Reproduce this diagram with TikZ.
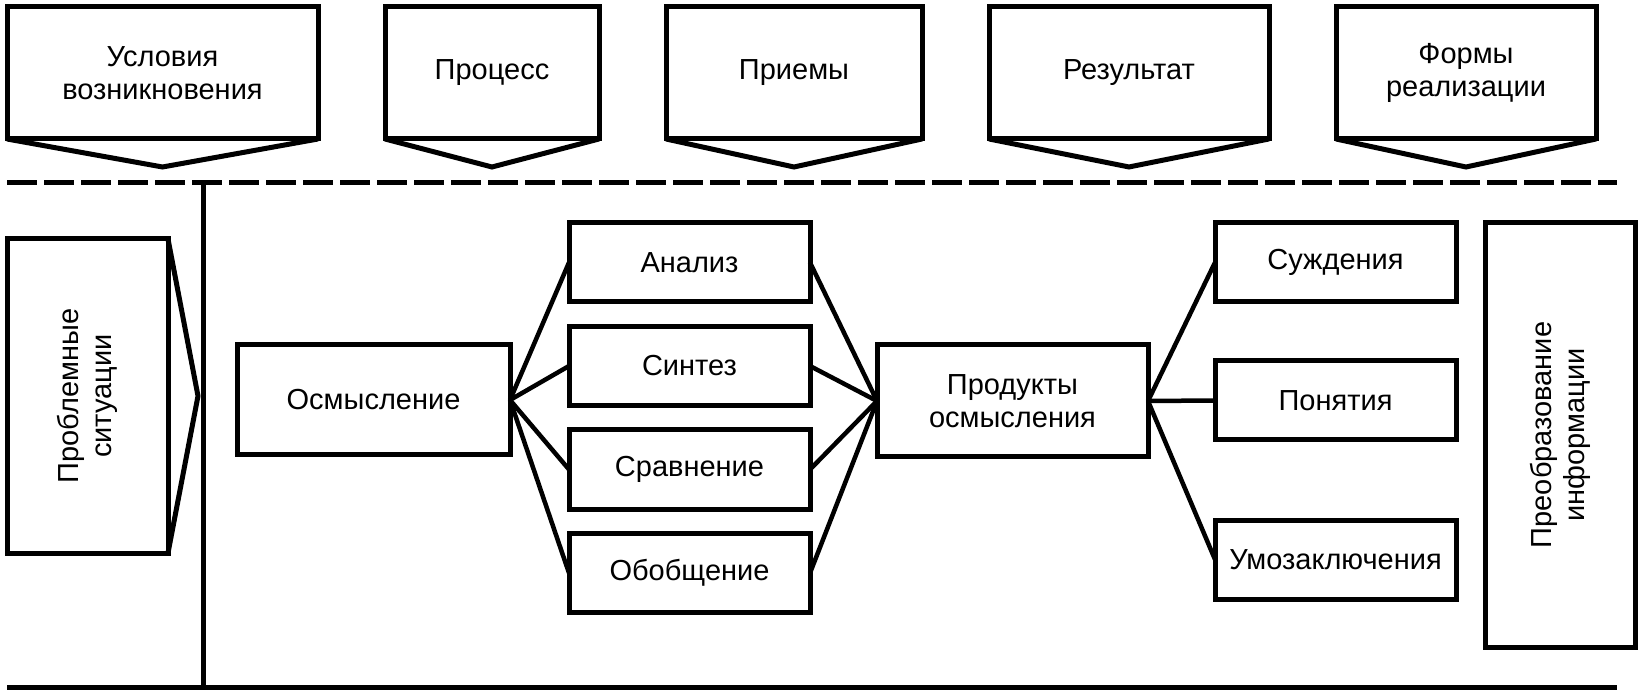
\documentclass[tikz,border=0pt]{standalone}
\usepackage{fontspec}
\setmainfont{Liberation Sans}
\usetikzlibrary{positioning,calc}

\begin{document}
\begin{tikzpicture}[
  x=1pt, y=-1pt,
  line width=5pt,
  font=\fontsize{29}{33}\selectfont,
  box/.style={draw,outer sep=0pt,inner sep=2pt,align=center,minimum height=79pt,minimum width=241pt},
  hdr/.style={box,minimum height=132pt},
  tall/.style={box,rotate=90},
  link/.style={line width=4.5pt},
  node distance=24.5pt,
]
  \useasboundingbox (0,0) rectangle (1642,692);

  % top row
  \node[hdr,minimum width=311pt] (cond) at (162.5,73) {Условия\\возникновения};
  \node[hdr,minimum width=214pt,right=67pt of cond] (proc) {Процесс};
  \node[hdr,minimum width=256pt,right=67pt of proc] (meth) {Приемы};
  \node[hdr,minimum width=280pt,right=67pt of meth] (res) {Результат};
  \node[hdr,minimum width=260pt,right=67pt of res] (form) {Формы\\реализации};
  \foreach \h in {cond,proc,meth,res,form} {
    \coordinate (\h-tip) at ($(\h.south)+(0,28)$);
    \draw (\h.south west) -- (\h-tip) -- (\h.south east);
  }

  % dividing lines
  \coordinate (dashL) at (7,183);
  \coordinate (dashR) at (1617,183);
  \coordinate (axisT) at (203,183);
  \coordinate (axisB) at (203,687);
  \coordinate (baseL) at (7,687);
  \coordinate (baseR) at (1617,687);
  \draw[dash pattern=on 30pt off 7pt] (dashL) -- (dashR);
  \draw (axisT) -- (axisB);
  \draw (baseL) -- (baseR);

  % left column
  \node[tall,minimum width=314pt,minimum height=161pt] (prob) at (87.5,396) {Проблемные\\ситуации};
  \coordinate (prob-tip) at (198,396);
  \draw (prob.south east) -- (prob-tip) -- (prob.south west);

  % process
  \node[box,minimum width=273pt,minimum height=110pt] (osm) at (373.5,400) {Осмысление};
  \node[box] (ana) at (689.5,262.5) {Анализ};
  \node[box,below=of ana] (syn) {Синтез};
  \node[box,below=of syn] (cmp) {Сравнение};
  \node[box,below=of cmp] (gen) {Обобщение};
  \node[box,minimum width=271pt,minimum height=112pt] (prod) at (1012.5,401) {Продукты\\осмысления};

  % results
  \node[box] (judg) at (1335.5,262.5) {Суждения};
  \node[box] (conc) at (1335.5,400.5) {Понятия};
  \node[box] (infer) at (1335.5,559.5) {Умозаключения};
  \node[tall,minimum width=424pt,minimum height=150pt] (trans) at (1560,435) {Преобразование\\информации};

  \foreach \m in {ana,syn,cmp,gen} {
    \draw[link] (osm.east) -- (\m.west);
    \draw[link] (\m.east) -- (prod.west);
  }
  \foreach \r in {judg,conc,infer} { \draw[link] (prod.east) -- (\r.west); }
\end{tikzpicture}
\end{document}
